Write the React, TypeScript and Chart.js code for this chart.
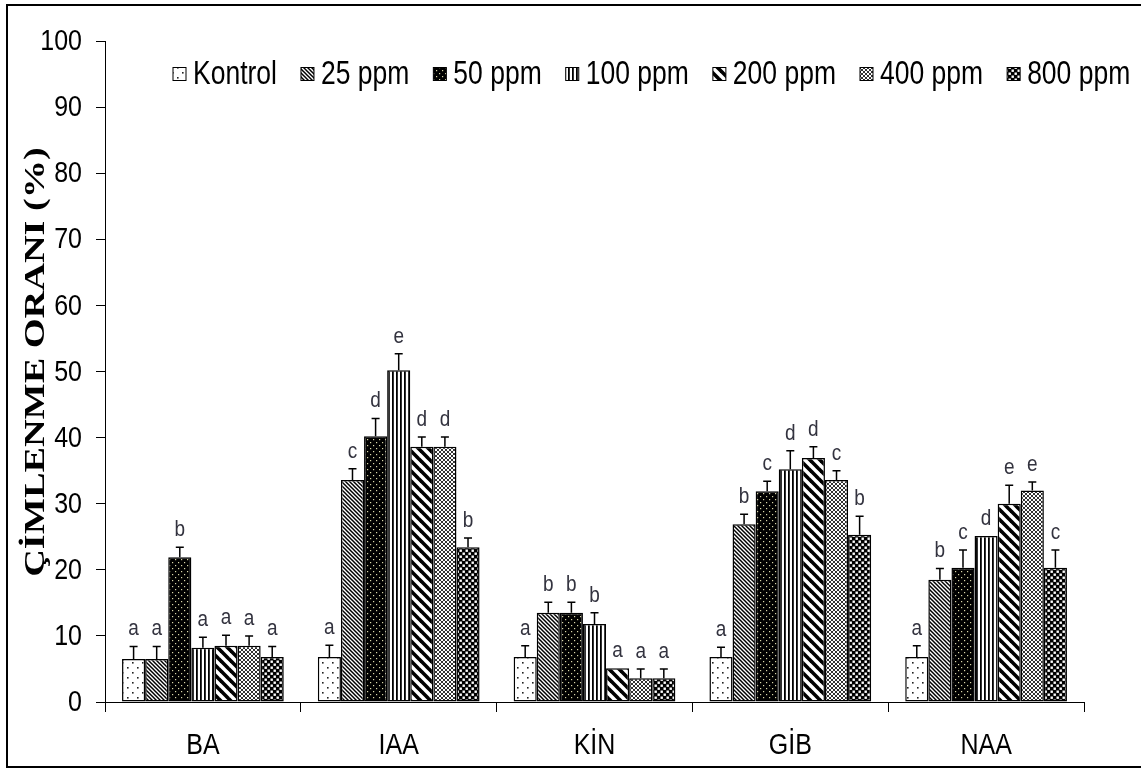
import React, { useEffect, useRef } from 'react';
import { Chart, registerables } from 'chart.js';

Chart.register(...registerables);

// Plant growth regulators (x categories)
const categories = ['BA', 'IAA', 'KİN', 'GİB', 'NAA'];

// Concentrations (series)
const seriesNames = ['Kontrol', '25 ppm', '50 ppm', '100 ppm', '200 ppm', '400 ppm', '800 ppm'];

// Germination rate (%) per concentration, in category order
const kontrol = [6.5, 6.8, 6.8, 6.8, 6.8];
const ppm25 = [6.5, 33.6, 13.5, 26.9, 18.5];
const ppm50 = [21.9, 40.2, 13.5, 31.9, 20.3];
const ppm100 = [8.2, 50.2, 11.8, 35.2, 25.1];
const ppm200 = [8.5, 38.6, 5.1, 36.9, 30.0];
const ppm400 = [8.5, 38.6, 3.6, 33.6, 32.0];
const ppm800 = [6.8, 23.4, 3.6, 25.3, 20.3];

// Standard errors (upper whisker only)
const errKontrol = [1.9, 1.8, 1.7, 1.5, 1.7];
const err25 = [1.9, 1.7, 1.6, 1.5, 1.7];
const err50 = [1.5, 2.7, 1.6, 1.5, 2.7];
const err100 = [1.6, 2.5, 1.7, 2.8, 0];
const err200 = [1.6, 1.5, 0, 1.7, 2.8];
const err400 = [1.5, 1.5, 1.4, 1.4, 1.3];
const err800 = [1.6, 1.4, 1.4, 2.8, 2.7];

// Significance groups
const sigKontrol = ['a', 'a', 'a', 'a', 'a'];
const sig25 = ['a', 'c', 'b', 'b', 'b'];
const sig50 = ['b', 'd', 'b', 'c', 'c'];
const sig100 = ['a', 'e', 'b', 'd', 'd'];
const sig200 = ['a', 'd', 'a', 'd', 'e'];
const sig400 = ['a', 'd', 'a', 'c', 'e'];
const sig800 = ['a', 'b', 'a', 'b', 'c'];

const yMin = 0;
const yMax = 100;
const yStep = 10;
const yTitle = 'ÇİMLENME ORANI (%)';

const values = [kontrol, ppm25, ppm50, ppm100, ppm200, ppm400, ppm800];
const errors = [errKontrol, err25, err50, err100, err200, err400, err800];
const letters = [sigKontrol, sig25, sig50, sig100, sig200, sig400, sig800];

const patternKinds = ['sparseDots', 'fineDiag', 'darkDots', 'vStripes', 'wideDiag', 'lattice', 'checker'];

const SANS = '"Liberation Sans", Arial, sans-serif';
const SERIF = '"Liberation Serif", "Times New Roman", serif';
// Text in this figure is drawn taller than its natural proportions
const TEXT_STRETCH = 1.28;

function makePattern(kind: string): CanvasPattern | string {
  const c = document.createElement('canvas');
  let s = 8;
  if (kind === 'sparseDots') s = 10;
  if (kind === 'fineDiag') s = 4;
  if (kind === 'darkDots') s = 6;
  if (kind === 'vStripes') s = 4;
  if (kind === 'wideDiag') s = 10;
  if (kind === 'lattice') s = 4;
  if (kind === 'checker') s = 6;
  c.width = s;
  c.height = s;
  const g = c.getContext('2d')!;
  const diag = (w: number, col: string) => {
    g.strokeStyle = col;
    g.lineWidth = w;
    g.lineCap = 'square';
    for (const o of [-s, 0, s]) {
      g.beginPath();
      g.moveTo(o - 1, -1);
      g.lineTo(o + s + 1, s + 1);
      g.stroke();
    }
  };
  if (kind === 'sparseDots') {
    g.fillStyle = '#fff';
    g.fillRect(0, 0, s, s);
    g.fillStyle = '#222';
    g.fillRect(2, 2, 1.6, 1.6);
    g.fillRect(7, 7, 1.6, 1.6);
  } else if (kind === 'fineDiag') {
    g.fillStyle = '#fff';
    g.fillRect(0, 0, s, s);
    diag(1.5, '#000');
  } else if (kind === 'darkDots') {
    g.fillStyle = '#000';
    g.fillRect(0, 0, s, s);
    g.fillStyle = '#d9d7a8';
    g.fillRect(1, 1, 1.2, 1.2);
    g.fillRect(4, 4, 1.2, 1.2);
  } else if (kind === 'vStripes') {
    g.fillStyle = '#fff';
    g.fillRect(0, 0, s, s);
    g.fillStyle = '#000';
    g.fillRect(0, 0, 1.8, s);
  } else if (kind === 'wideDiag') {
    g.fillStyle = '#fff';
    g.fillRect(0, 0, s, s);
    diag(3.6, '#000');
  } else if (kind === 'lattice') {
    g.fillStyle = '#fff';
    g.fillRect(0, 0, s, s);
    g.strokeStyle = '#333';
    g.lineWidth = 1;
    for (const o of [-s, 0, s]) {
      g.beginPath();
      g.moveTo(o, 0);
      g.lineTo(o + s, s);
      g.moveTo(o, s);
      g.lineTo(o + s, 0);
      g.stroke();
    }
  } else if (kind === 'checker') {
    g.fillStyle = '#000';
    g.fillRect(0, 0, s, s);
    g.fillStyle = '#fff';
    g.fillRect(0.5, 0.5, 2.4, 2.4);
    g.fillRect(3.5, 3.5, 2.4, 2.4);
  }
  return g.createPattern(c, 'repeat') || '#888';
}

// Draw text with a vertical stretch around its anchor point
function tallText(ctx: CanvasRenderingContext2D, text: string, x: number, y: number, k = TEXT_STRETCH) {
  ctx.save();
  ctx.translate(x, y);
  ctx.scale(1, k);
  ctx.fillText(text, 0, 0);
  ctx.restore();
}

export default function App() {
  const ref = useRef<HTMLCanvasElement | null>(null);

  useEffect(() => {
    const canvas = ref.current;
    if (!canvas) return;
    const patterns = patternKinds.map(makePattern);

    // Frame around the figure
    const framePlugin = {
      id: 'frame',
      beforeDraw(chart: any) {
        const ctx = chart.ctx;
        ctx.save();
        ctx.fillStyle = '#fff';
        ctx.fillRect(0, 0, chart.width, chart.height);
        ctx.strokeStyle = '#000';
        ctx.lineWidth = 2;
        ctx.strokeRect(7, 5, chart.width + 10, 762);
        ctx.restore();
      },
    };

    // Upper error whiskers and significance letters
    const errorPlugin = {
      id: 'errorLetters',
      afterDatasetsDraw(chart: any) {
        const ctx = chart.ctx;
        const y = chart.scales.y;
        ctx.save();
        ctx.strokeStyle = '#000';
        ctx.lineWidth = 1.5;
        ctx.fillStyle = '#33333f';
        ctx.font = `19px ${SANS}`;
        ctx.textAlign = 'center';
        ctx.textBaseline = 'alphabetic';
        values.forEach((series, i) => {
          const meta = chart.getDatasetMeta(i);
          series.forEach((v, j) => {
            const el = meta.data[j];
            const e = errors[i][j];
            const yTop = y.getPixelForValue(v);
            const yErr = y.getPixelForValue(v + e);
            if (e > 0) {
              ctx.beginPath();
              ctx.moveTo(el.x, yTop);
              ctx.lineTo(el.x, yErr);
              ctx.moveTo(el.x - 4, yErr);
              ctx.lineTo(el.x + 4, yErr);
              ctx.stroke();
            }
            tallText(ctx, letters[i][j], el.x, yErr - 11, 1.15);
          });
        });
        ctx.restore();
      },
    };

    // Tick labels, legend row inside the plot area, rotated y-axis title
    const textPlugin = {
      id: 'texts',
      afterDraw(chart: any) {
        const ctx = chart.ctx;
        const xs = chart.scales.x;
        const ys = chart.scales.y;
        ctx.save();
        ctx.fillStyle = '#000';

        ctx.font = `25px ${SANS}`;
        ctx.textAlign = 'right';
        ctx.textBaseline = 'middle';
        ys.ticks.forEach((t: any, i: number) => {
          tallText(ctx, String(t.value), ys.right - 23, ys.getPixelForTick(i) + 1, 1.18);
        });

        ctx.textAlign = 'center';
        categories.forEach((c, i) => {
          tallText(ctx, c, xs.getPixelForTick(i), 746, 1.18);
        });

        ctx.font = `26.5px ${SANS}`;
        ctx.textAlign = 'left';
        let x = 173;
        const cy = 74;
        seriesNames.forEach((name, i) => {
          ctx.fillStyle = patterns[i];
          ctx.fillRect(x, cy - 6.5, 13, 13);
          ctx.strokeStyle = '#000';
          ctx.lineWidth = 1;
          ctx.strokeRect(x, cy - 6.5, 13, 13);
          ctx.fillStyle = '#000';
          tallText(ctx, name, x + 20, cy + 1);
          x += 20 + ctx.measureText(name).width + 24;
        });

        ctx.translate(37, 362);
        ctx.rotate(-Math.PI / 2);
        ctx.scale(1.32, 1);
        ctx.font = `bold 29px ${SERIF}`;
        ctx.textAlign = 'center';
        ctx.textBaseline = 'middle';
        ctx.fillStyle = '#000';
        ctx.fillText(yTitle, 0, 0);
        ctx.restore();
      },
    };

    const chart = new Chart(canvas, {
      type: 'bar',
      data: {
        labels: categories,
        datasets: seriesNames.map((name, i) => ({
          label: name,
          data: values[i],
          backgroundColor: patterns[i] as any,
          borderColor: '#000',
          borderWidth: 1.5,
          borderSkipped: false,
          barPercentage: 1,
          categoryPercentage: 0.826,
        })),
      },
      options: {
        responsive: false,
        animation: false,
        layout: { padding: { left: 0, top: 41, right: 57, bottom: 8 } },
        plugins: {
          legend: { display: false },
          tooltip: { enabled: false },
        },
        scales: {
          x: {
            grid: {
              offset: true,
              drawOnChartArea: false,
              drawTicks: true,
              tickLength: 10,
              color: '#000',
              tickWidth: 1,
            },
            border: { display: true, color: '#000', width: 1 },
            ticks: { display: false },
            afterFit(scale: any) {
              scale.height = 60;
            },
          },
          y: {
            min: yMin,
            max: yMax,
            ticks: { stepSize: yStep, display: false },
            grid: {
              drawOnChartArea: false,
              drawTicks: true,
              tickLength: 9,
              color: '#000',
              tickWidth: 1,
            },
            border: { display: true, color: '#000', width: 1 },
            afterFit(scale: any) {
              scale.width = 105;
            },
          },
        },
      },
      plugins: [framePlugin, errorPlugin, textPlugin],
    });

    return () => chart.destroy();
  }, []);

  return (
    <div style={{ position: 'fixed', left: 0, top: 0, width: 1141, height: 770, background: '#fff' }}>
      <canvas ref={ref} width={1141} height={770} style={{ display: 'block' }} />
    </div>
  );
}
